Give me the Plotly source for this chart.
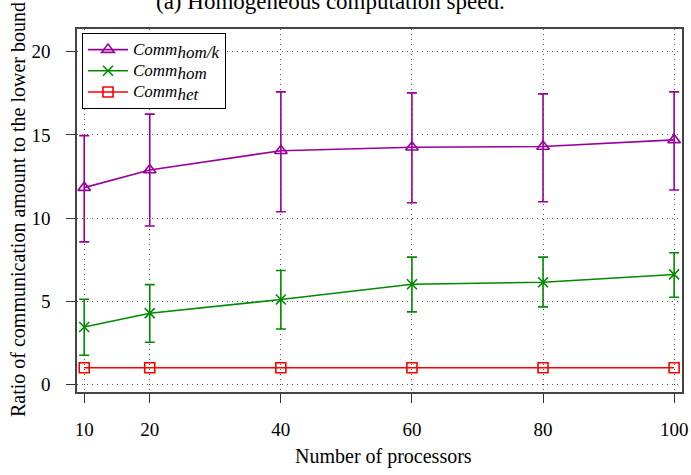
import plotly.graph_objects as go

processors = [10, 20, 40, 60, 80, 100]

hom_k_mean = [11.83, 12.89, 14.05, 14.26, 14.30, 14.70]
hom_k_upper = [14.96, 16.25, 17.59, 17.53, 17.47, 17.59]
hom_k_lower = [8.57, 9.52, 10.38, 10.92, 10.98, 11.69]

hom_mean = [3.45, 4.28, 5.10, 6.02, 6.14, 6.61]
hom_upper = [5.12, 6.00, 6.85, 7.65, 7.65, 7.91]
hom_lower = [1.75, 2.53, 3.33, 4.36, 4.66, 5.24]

het_mean = [1.0, 1.0, 1.0, 1.0, 1.0, 1.0]

x_ticks = [10, 20, 40, 60, 80, 100]
y_ticks = [0, 5, 10, 15, 20]

PURPLE = "#990099"
GREEN = "#008a00"
RED = "#ff0000"
FONT = "Liberation Serif, Times New Roman, serif"

fig = go.Figure()

def legend_label(sub):
    return ("<span style='font-size:17px'><i>Comm</i></span>"
            "<sub><span style='font-size:17px'><i>" + sub + "</i></span></sub>")

def add_series(name, mean, upper, lower, color, symbol, size):
    err = None
    if upper is not None:
        err = dict(type="data", symmetric=False,
                   array=[u - m for u, m in zip(upper, mean)],
                   arrayminus=[m - l for m, l in zip(mean, lower)],
                   color=color, thickness=1.6, width=5)
    fig.add_trace(go.Scatter(
        x=processors, y=mean, name=name, mode="lines+markers",
        line=dict(color=color, width=1.6),
        marker=dict(symbol=symbol, size=size, color=color,
                    line=dict(color=color, width=1.6)),
        error_y=err,
    ))

add_series(legend_label("hom/k"), hom_k_mean, hom_k_upper, hom_k_lower,
           PURPLE, "triangle-up-open", 11)
add_series(legend_label("hom"), hom_mean, hom_upper, hom_lower,
           GREEN, "x-thin-open", 10)
add_series(legend_label("het"), het_mean, None, None,
           RED, "square-open", 10)

W, H = 691, 475
L, R, T, B = 77, 9, 29, 83
PW, PH = W - L - R, H - T - B

fig.update_layout(
    width=W, height=H,
    margin=dict(l=L, r=R, t=T, b=B, autoexpand=False),
    paper_bgcolor="white", plot_bgcolor="white",
    font=dict(family=FONT, size=19, color="black"),
    showlegend=True,
    legend=dict(x=(82 - L) / PW, y=(T + PH - 33) / PH, xanchor="left", yanchor="top",
                bgcolor="white", bordercolor="black", borderwidth=1,
                font=dict(family=FONT, size=14.0, color="black"), itemwidth=40,
                tracegroupgap=0),
    annotations=[
        dict(text="(a) Homogeneous computation speed.",
             xref="paper", yref="paper", x=(330 - L) / PW, y=(PH + T - 1.5) / PH,
             xanchor="center", yanchor="middle", showarrow=False,
             font=dict(family=FONT, size=23, color="black")),
        dict(text="Number of processors",
             xref="paper", yref="paper", x=(383 - L) / PW, y=-(456 - (T + PH)) / PH,
             xanchor="center", yanchor="middle", showarrow=False,
             font=dict(family=FONT, size=20, color="black")),
        dict(text="Ratio of communication amount to the lower bound",
             xref="paper", yref="paper", x=-(L - 18) / PW, y=(T + PH - 210) / PH,
             xanchor="center", yanchor="middle", showarrow=False, textangle=-90,
             font=dict(family=FONT, size=20, color="black")),
    ],
)

axis_common = dict(
    showgrid=True, gridcolor="#555", griddash="1px,4px", gridwidth=1,
    showline=True, linecolor="#444", linewidth=1.5, mirror=True,
    ticks="outside", ticklen=9, tickcolor="#333", tickwidth=1,
    zeroline=False, automargin=False,
    tickfont=dict(family=FONT, size=19, color="black"),
)

fig.update_xaxes(
    range=[8.9, 101.2], tickvals=x_ticks, ticktext=[str(v) for v in x_ticks],
    ticklabelstandoff=10, **axis_common,
)
fig.update_yaxes(
    range=[-0.46, 21.37], tickvals=y_ticks, ticktext=[str(v) for v in y_ticks],
    ticklabelstandoff=12, **axis_common,
)

fig.write_html("out.html", config={"displayModeBar": False},
               post_script="document.body.style.margin='0px';")
